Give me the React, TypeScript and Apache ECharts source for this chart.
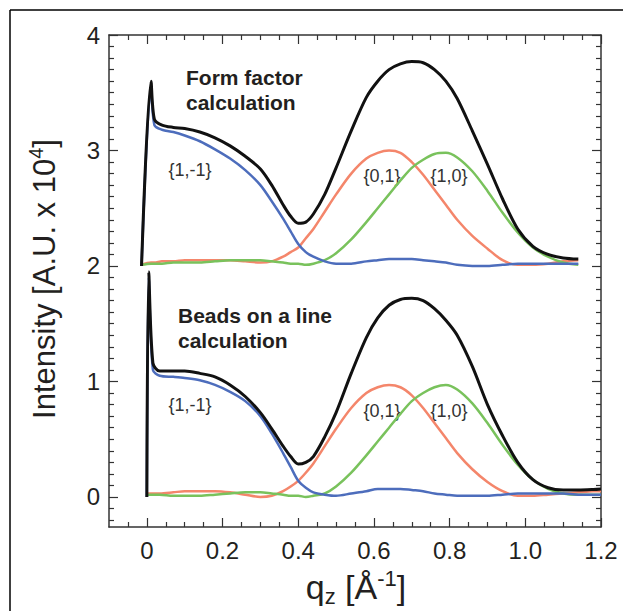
import React, { useEffect, useRef } from "react";
import * as echarts from "echarts";

// ---- data ----
// upper set: "Form factor calculation" (offset by 2)
const qTop = [-0.014, 0.011, 0.02, 0.04, 0.07, 0.10, 0.14, 0.18, 0.22, 0.26, 0.30, 0.33, 0.36, 0.38, 0.40, 0.42, 0.44, 0.47, 0.50, 0.54, 0.58, 0.61, 0.64, 0.67, 0.70, 0.73, 0.76, 0.79, 0.82, 0.86, 0.90, 0.94, 0.98, 1.02, 1.06, 1.10, 1.14];
const topTotal = [2.00, 3.60, 3.27, 3.22, 3.20, 3.19, 3.16, 3.11, 3.04, 2.95, 2.84, 2.70, 2.53, 2.43, 2.37, 2.38, 2.45, 2.62, 2.85, 3.17, 3.46, 3.60, 3.70, 3.75, 3.77, 3.76, 3.70, 3.60, 3.45, 3.17, 2.88, 2.58, 2.32, 2.17, 2.10, 2.07, 2.06];
const topB11 = [2.00, 3.55, 3.22, 3.18, 3.16, 3.13, 3.08, 3.01, 2.93, 2.83, 2.70, 2.56, 2.41, 2.30, 2.19, 2.12, 2.08, 2.04, 2.02, 2.02, 2.04, 2.05, 2.06, 2.06, 2.06, 2.05, 2.04, 2.03, 2.01, 2.00, 2.00, 2.01, 2.02, 2.02, 2.02, 2.02, 2.02];
const top01 = [2.01, 2.03, 2.03, 2.04, 2.04, 2.05, 2.05, 2.05, 2.05, 2.04, 2.03, 2.04, 2.08, 2.12, 2.16, 2.24, 2.32, 2.47, 2.62, 2.80, 2.93, 2.98, 3.00, 2.98, 2.90, 2.79, 2.66, 2.53, 2.40, 2.26, 2.15, 2.05, 2.01, 2.01, 2.02, 2.04, 2.05];
const top10 = [2.01, 2.02, 2.02, 2.02, 2.03, 2.03, 2.03, 2.04, 2.05, 2.05, 2.05, 2.04, 2.03, 2.02, 2.02, 2.01, 2.02, 2.05, 2.11, 2.23, 2.38, 2.50, 2.62, 2.74, 2.85, 2.92, 2.97, 2.98, 2.94, 2.82, 2.65, 2.46, 2.29, 2.16, 2.08, 2.03, 2.01];

// lower set: "Beads on a line calculation"
const qBot = [0, 0.005, 0.016, 0.034, 0.07, 0.10, 0.14, 0.18, 0.22, 0.26, 0.30, 0.33, 0.36, 0.38, 0.40, 0.42, 0.44, 0.47, 0.50, 0.54, 0.58, 0.61, 0.64, 0.67, 0.70, 0.73, 0.76, 0.79, 0.82, 0.86, 0.90, 0.94, 0.98, 1.02, 1.06, 1.10, 1.14, 1.18, 1.20];
const botTotal = [0.00, 1.95, 1.16, 1.09, 1.09, 1.09, 1.07, 1.04, 0.97, 0.87, 0.73, 0.59, 0.44, 0.35, 0.285, 0.30, 0.35, 0.52, 0.73, 1.07, 1.38, 1.55, 1.66, 1.71, 1.72, 1.70, 1.63, 1.53, 1.40, 1.13, 0.80, 0.53, 0.30, 0.15, 0.08, 0.06, 0.06, 0.065, 0.07];
const botB11 = [0.00, 1.90, 1.10, 1.05, 1.04, 1.03, 1.01, 0.97, 0.91, 0.83, 0.70, 0.55, 0.38, 0.26, 0.14, 0.08, 0.04, 0.02, 0.01, 0.03, 0.05, 0.07, 0.07, 0.07, 0.06, 0.05, 0.03, 0.02, 0.01, 0.01, 0.01, 0.02, 0.03, 0.03, 0.03, 0.03, 0.02, 0.02, 0.02];
const bot01 = [0.03, 0.03, 0.03, 0.03, 0.04, 0.05, 0.05, 0.05, 0.04, 0.02, 0.00, 0.01, 0.05, 0.09, 0.14, 0.21, 0.29, 0.44, 0.59, 0.77, 0.90, 0.95, 0.97, 0.95, 0.88, 0.77, 0.64, 0.51, 0.38, 0.24, 0.13, 0.05, 0.01, 0.01, 0.02, 0.03, 0.04, 0.05, 0.05];
const bot10 = [0.02, 0.02, 0.02, 0.02, 0.01, 0.01, 0.01, 0.02, 0.03, 0.04, 0.04, 0.03, 0.02, 0.01, 0.01, 0.00, 0.01, 0.03, 0.09, 0.21, 0.36, 0.48, 0.60, 0.72, 0.83, 0.90, 0.95, 0.97, 0.93, 0.81, 0.64, 0.45, 0.28, 0.15, 0.07, 0.03, 0.02, 0.02, 0.02];

const xMajor = [0, 0.2, 0.4, 0.6, 0.8, 1.0, 1.2];
const xMinor = [-0.05, 0.05, 0.1, 0.15, 0.25, 0.3, 0.35, 0.45, 0.5, 0.55, 0.65, 0.7, 0.75, 0.85, 0.9, 0.95, 1.05, 1.1, 1.15];
const yMajor = [0, 1, 2, 3, 4];
const yMinor: number[] = [-0.2, -0.1];
for (let i = 0; i < 4; i++) for (let j = 1; j <= 9; j++) yMinor.push(Math.round((i + j / 10) * 10) / 10);

const FONT = "'Liberation Sans', Arial, Helvetica, sans-serif";
const AX = "#333333";
const TXT = "#231f20";
const BLUE = "#4d6dbc";
const ORANGE = "#f4866b";
const GREEN = "#79c25c";
const BLACK = "#111111";

const pairs = (q: number[], y: number[]) => q.map((x, i) => [x, y[i]]);

function line(name: string, q: number[], y: number[], color: string, width: number, z: number) {
  return {
    type: "line",
    name,
    data: pairs(q, y),
    symbol: "none",
    showSymbol: false,
    smooth: 0.3,
    silent: true,
    z,
    lineStyle: { color, width, join: "round" },
  };
}

function xAx(pos: string, ticks: number[], len: number, main: boolean) {
  return {
    type: "value",
    min: -0.1,
    max: 1.2,
    position: pos,
    axisLine: { show: main, onZero: false, lineStyle: { color: AX, width: 1.5 } },
    axisTick: { show: true, inside: true, length: len, customValues: ticks, lineStyle: { color: AX, width: 1.2 } },
    axisLabel: {
      show: main && pos === "bottom",
      customValues: xMajor,
      formatter: (v: number) => (v === 0 ? "0" : v.toFixed(1)),
      fontSize: 24,
      fontFamily: FONT,
      color: TXT,
      margin: 11,
    },
    splitLine: { show: false },
  };
}

function yAx(pos: string, ticks: number[], len: number, main: boolean) {
  return {
    type: "value",
    min: -0.26,
    max: 4,
    position: pos,
    axisLine: { show: main, onZero: false, lineStyle: { color: AX, width: 1.5 } },
    axisTick: { show: true, inside: true, length: len, customValues: ticks, lineStyle: { color: AX, width: 1.2 } },
    axisLabel: {
      show: main && pos === "left",
      customValues: yMajor,
      formatter: (v: number) => String(v),
      fontSize: 24,
      fontFamily: FONT,
      color: TXT,
      margin: 9,
    },
    splitLine: { show: false },
  };
}

const lbl = (text: string, x: number, y: number) => ({
  type: "text",
  x,
  y,
  silent: true,
  style: { text, fontSize: 18, fontFamily: FONT, fill: "#333333", align: "center", verticalAlign: "middle" },
});

const option = {
  animation: false,
  backgroundColor: "#ffffff",
  grid: { left: 109, top: 35, right: 22, bottom: 84, containLabel: false, outerBoundsMode: "none" },
  xAxis: [
    xAx("bottom", xMajor, 9, true),
    xAx("bottom", xMinor, 5, false),
    xAx("top", xMajor, 9, true),
    xAx("top", xMinor, 5, false),
  ],
  yAxis: [
    yAx("left", yMajor, 9, true),
    yAx("left", yMinor, 5, false),
    yAx("right", yMajor, 9, true),
    yAx("right", yMinor, 5, false),
  ],
  series: [
    line("top {0,1}", qTop, top01, ORANGE, 2.5, 2),
    line("top {1,0}", qTop, top10, GREEN, 2.5, 3),
    line("top {1,-1}", qTop, topB11, BLUE, 2.5, 4),
    line("top total", qTop, topTotal, BLACK, 3, 5),
    line("bottom {0,1}", qBot, bot01, ORANGE, 2.5, 2),
    line("bottom {1,0}", qBot, bot10, GREEN, 2.5, 3),
    line("bottom {1,-1}", qBot, botB11, BLUE, 2.5, 4),
    line("bottom total", qBot, botTotal, BLACK, 3, 5),
  ],
  graphic: [
    { type: "line", silent: true, shape: { x1: 10, y1: 10, x2: 623, y2: 10 }, style: { stroke: "#000", lineWidth: 1.5 } },
    { type: "line", silent: true, shape: { x1: 10, y1: 10, x2: 10, y2: 611 }, style: { stroke: "#000", lineWidth: 1.5 } },
    {
      type: "text",
      x: 186,
      y: 65,
      silent: true,
      style: { text: "Form factor\ncalculation", fontSize: 21, fontWeight: "bold", fontFamily: FONT, fill: TXT, lineHeight: 25, verticalAlign: "top" },
    },
    {
      type: "text",
      x: 178,
      y: 303,
      silent: true,
      style: { text: "Beads on a line\ncalculation", fontSize: 21, fontWeight: "bold", fontFamily: FONT, fill: TXT, lineHeight: 25, verticalAlign: "top" },
    },
    lbl("{1,-1}", 190, 170),
    lbl("{0,1}", 382, 176),
    lbl("{1,0}", 449, 176),
    lbl("{1,-1}", 190, 405),
    lbl("{0,1}", 382, 411),
    lbl("{1,0}", 449, 411),
    {
      type: "text",
      x: 356,
      y: 587,
      silent: true,
      style: {
        text: "{a|q}{b|z}{a| [Å}{c|-1}{a|]}",
        align: "center",
        verticalAlign: "middle",
        fill: TXT,
        rich: {
          a: { fontSize: 34, fontFamily: FONT, fill: TXT, lineHeight: 40 },
          b: { fontSize: 22, fontFamily: FONT, fill: TXT, verticalAlign: "bottom", lineHeight: 30 },
          c: { fontSize: 22, fontFamily: FONT, fill: TXT, verticalAlign: "top", lineHeight: 26 },
        },
      },
    },
    {
      type: "text",
      x: 44,
      y: 279,
      rotation: Math.PI / 2,
      silent: true,
      style: {
        text: "{a|Intensity [A.U. x 10}{c|4}{a|]}",
        align: "center",
        verticalAlign: "middle",
        fill: TXT,
        rich: {
          a: { fontSize: 31, fontFamily: FONT, fill: TXT, lineHeight: 36 },
          c: { fontSize: 20, fontFamily: FONT, fill: TXT, verticalAlign: "top", lineHeight: 24 },
        },
      },
    },
  ],
};

export default function App() {
  const ref = useRef<HTMLDivElement>(null);
  useEffect(() => {
    document.body.style.margin = "0";
    const chart = echarts.init(ref.current as HTMLDivElement, null, { renderer: "svg" });
    chart.setOption(option as any);
    return () => chart.dispose();
  }, []);
  return <div ref={ref} style={{ width: 623, height: 611, background: "#fff" }} />;
}
